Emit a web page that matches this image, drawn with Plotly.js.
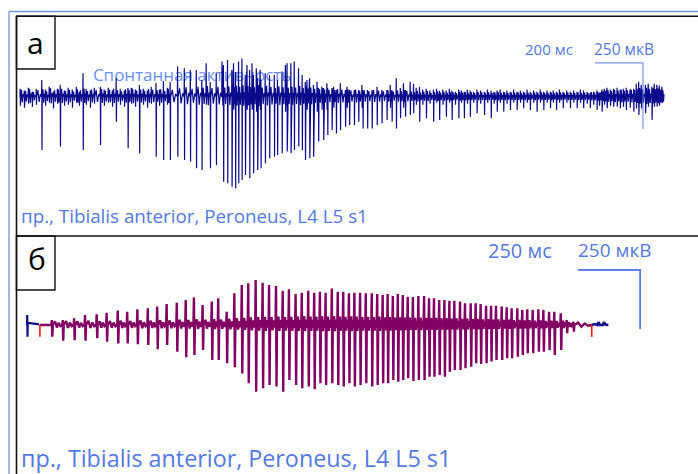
<!DOCTYPE html>
<html>
<head>
<meta charset="utf-8">
<script src="https://cdn.plot.ly/plotly-3.0.1.min.js"></script>
<style>html,body{margin:0;padding:0;background:#fff;}#chart{width:698px;height:474px;}</style>
</head>
<body>
<div id="chart"></div>
<script>
// ===== Panel "а": spontaneous activity (time in ms, amplitude in µV) =====
const aT = [8,25,42,58,75,98,113,129,146,163,175,192,208,225,242,254,270,283,300,317,342,358,375,392,408,425,442,457,471,488,505,521,538,554,574,588,605,621,633,
664,692,717,742,765,783,800,825,849,855,872,890,897,905,918,932,946,953,964,974,980,992,997,1008,1011,1029,1047,1067,1080,1099,1113,1120,1136,1150,1168,1183,1196,1203,1214,1230,1245,1251,1265,1272,1286,1289,1307,1314,1325,1342,1363,1370,1380,1400,1418,1432,1436,1455,1474,1495,1515,1536,1550,1557,1575,1592,1605,1613,
1633,1647,1658,1672,1685,1700,1715,1730,1743,1755,1769,1783,1796,1807,1821,1835,1846,1858,1871,1883,1897,1911,1926,1942,1955,1970,1982,1995,2008,2022,2036,2050,2064,2078,2092,2105,2120,2133,2147,2161,2175,2189,2203,2217,2229,2242,2255,2270,2285,2300,2314,2328,2342,2355,2370,2383,2397,2411,2421,2432,2442,2453,2467,2480,2495,2508,2521,2533,2549,2564,2575,2585,2596,2613,2625,2640,2650,2661,2671,2682];
const aUp = [30,23,34,19,30,63,27,38,19,30,44,23,34,27,38,19,89,30,23,34,38,27,34,23,71,30,23,33,34,27,44,30,23,38,52,27,59,34,56,
114,108,101,101,63,127,56,89,133,120,139,101,127,94,133,145,82,120,101,127,82,108,71,101,63,89,82,82,63,95,120,127,127,133,108,82,56,63,70,44,57,33,38,33,51,33,33,38,25,51,25,38,25,25,25,44,25,25,25,38,25,25,44,25,70,33,51,25,
57,49,34,38,27,30,23,27,30,23,27,23,30,23,19,27,23,19,27,23,19,27,23,19,27,23,19,23,27,19,23,19,27,19,23,19,27,19,23,19,27,19,23,19,23,19,27,19,23,19,23,19,27,23,19,15,19,23,15,27,30,34,27,30,34,27,30,34,27,30,49,57,45,45,49,38,49,45,42,38];
const aDn = [34,42,27,38,30,202,34,23,45,27,189,34,30,42,23,34,202,30,42,27,183,34,23,38,95,30,38,195,27,38,214,30,42,27,227,34,240,30,240,
227,240,246,271,278,30,271,259,30,322,328,341,49,347,328,316,297,49,309,49,290,57,278,49,271,252,233,227,221,214,57,208,214,202,189,202,240,49,233,227,57,170,49,164,49,145,126,42,139,126,114,42,107,107,95,42,120,120,120,107,101,88,42,95,120,82,42,76,
69,63,30,95,30,82,27,95,23,88,30,76,23,88,30,82,23,82,27,76,23,63,27,69,23,82,27,57,23,57,27,50,23,50,23,44,23,50,23,57,23,50,23,44,23,50,23,44,23,44,23,44,23,44,27,44,30,50,34,57,30,44,34,38,38,44,38,50,42,57,45,69,45,63,38,88,38,38,34,25];
// background noise amplitude after each event (µV)
const aRip = [26,22,30,18,25,28,20,32,24,27,30,22,26,19,28,24,30,21,27,25,29,22,26,30,24,20,28,25,31,23,27,22,29,26,24,28,21,30,26,
32,36,30,38,34,40,33,37,42,35,39,44,36,41,38,43,35,40,37,42,36,39,44,38,35,41,37,33,39,36,42,34,38,35,40,33,37,31,35,30,34,28,32,27,31,26,30,25,29,27,24,28,23,27,22,26,24,21,25,23,20,24,22,19,23,21,25,22,
20,17,22,16,19,21,15,18,20,16,19,15,18,17,14,19,16,18,15,17,14,18,16,15,17,14,16,18,15,17,14,16,15,17,14,16,15,13,16,14,17,15,14,16,13,15,17,14,16,15,14,17,15,16,14,18,16,19,17,20,22,24,21,25,23,26,22,24,27,25,30,33,28,34,30,32,29,31,27,24];

// ===== Panel "б": interference pattern (time in ms, amplitude in µV) =====
const bT = [100,144,190,234,281,321,366,404,445,487,525,563,604,640,673,708,745,771,805,836,866,892,922,950,976,1004,1031,1056,1083,1108,1134,1158,1181,1204,1229,1253,1275,1298,1320,1343,1366,1390,1412,1434,1454,1475,1495,1515,1535,1556,1578,1601,1621,1641,1662,1683,1703,1723,1746,1766,1789,1809,1829,1851,1871,1891,1914,1934,1954,1977,1997,2017,2039,2062,2082,2105,2126,2152,2176,2203];
const bUp = [21,21,28,42,45,52,61,56,67,71,78,89,94,106,117,85,99,113,56,134,169,177,191,179,169,165,145,151,131,137,145,137,141,137,155,141,141,134,137,137,134,134,131,127,131,123,131,127,120,119,123,123,113,113,106,106,103,103,99,92,92,92,89,81,81,81,78,75,71,71,64,67,64,67,64,56,56,50,21,14];
const bDn = [50,67,64,67,56,71,78,78,81,85,103,85,113,137,127,106,148,148,162,179,205,247,283,268,254,261,283,233,254,268,261,272,247,254,247,254,261,247,261,254,247,261,254,247,247,233,240,233,226,237,233,233,219,219,212,219,198,191,191,183,177,162,165,162,155,148,148,141,141,134,127,120,120,113,113,106,127,106,35,28];
const bRip = [15,17,15,18,16,17,18,17,19,18,20,19,22,21,24,22,25,23,26,28,30,32,34,35,33,36,34,35,36,38,36,35,37,36,38,36,35,37,36,34,35,34,36,33,34,32,33,31,32,30,31,30,29,30,28,29,27,28,26,27,25,26,24,25,23,24,22,23,21,22,20,21,19,20,18,19,17,18,12,10];
// recording start / end segments (blue) and markers (red)
const bStartT = [0,1,2,3,10,30,44,48];
const bStartV = [0,42,-50,8,8,6,4,0];
const bEndT = [2277,2290,2300,2304,2310,2322,2326,2332,2344];
const bEndV = [0,4,0,12,0,0,12,2,0];
const bMarkT = [52,2277];
const bMarkV = [-50,-50];

// scale bars
const aScaleMs = 200, aScaleUv = 250;
const bScaleMs = 250, bScaleUv = 250;

// ===== build traces =====
const ax = [], ay = [];
for (let i = 0; i < aT.length; i++) {
  const t = aT[i];
  const next = i + 1 < aT.length ? aT[i + 1] : t + 12;
  const g = next - t - 3;
  ax.push(t, t + 1, t + 2, t + 3, t + 3 + g * 0.25, t + 3 + g * 0.5, t + 3 + g * 0.75);
  ay.push(0, aUp[i], -aDn[i], 0, aRip[i], -aRip[i] * 0.8, aRip[i] * 0.4);
}
const bx = [52], by = [0];
for (let i = 0; i < bT.length; i++) {
  const t = bT[i];
  const next = i + 1 < bT.length ? bT[i + 1] : 2277;
  const g = next - t - 8;
  bx.push(t - 2, t, t + 2, t + 4, t + 6 + g * 0.2, t + 6 + g * 0.4, t + 6 + g * 0.6, t + 6 + g * 0.8);
  by.push(0, bUp[i], -bDn[i], 0, bRip[i], -bRip[i] * 0.7, bRip[i] * 0.6, -bRip[i] * 0.3);
}
bx.push(2277); by.push(0);
const mx = [], my = [];
bMarkT.forEach((t, i) => { mx.push(t, t, null); my.push(0, bMarkV[i], null); });

const navy = '#0a0a8c';
const purple = '#820063';
const lblue = '#5479e2';

const traces = [
  {x: [312], y: [75], mode: 'text', text: ['Спонтанная активность'], textposition: 'middle right',
   textfont: {family: 'Open Sans, sans-serif', size: 17, color: '#6b8ff0'}, xaxis: 'x', yaxis: 'y', hoverinfo: 'skip'},
  {x: ax, y: ay, mode: 'lines', line: {color: navy, width: 1.2}, xaxis: 'x', yaxis: 'y', hoverinfo: 'skip'},
  {x: bx, y: by, mode: 'lines', line: {color: purple, width: 2.4}, xaxis: 'x2', yaxis: 'y2', hoverinfo: 'skip'},
  {x: bStartT, y: bStartV, mode: 'lines', line: {color: '#10108c', width: 2.2}, xaxis: 'x2', yaxis: 'y2', hoverinfo: 'skip'},
  {x: bEndT, y: bEndV, mode: 'lines', line: {color: '#10108c', width: 2.6}, xaxis: 'x2', yaxis: 'y2', hoverinfo: 'skip'},
  {x: mx, y: my, mode: 'lines', line: {color: '#ff1010', width: 1.6}, xaxis: 'x2', yaxis: 'y2', hoverinfo: 'skip'}
];

// ===== layout (pixel helpers for frame / labels) =====
const W = 698, H = 474;
const px = v => v / W, py = v => 1 - v / H;
const aScaleT0 = 2404, aScaleV0 = 128;
const bScaleT0 = 2222, bScaleV0 = 233;

const shapes = [
  {type: 'line', xref: 'paper', yref: 'paper', x0: px(9), x1: px(700), y0: py(11.5), y1: py(11.5), line: {color: '#6f93e6', width: 1.3}},
  {type: 'line', xref: 'paper', yref: 'paper', x0: px(9), x1: px(9), y0: py(11.5), y1: py(476), line: {color: '#6f93e6', width: 1.3}},
  {type: 'line', xref: 'paper', yref: 'paper', x0: px(16.5), x1: px(700), y0: py(16.3), y1: py(16.3), line: {color: '#111', width: 1.6}},
  {type: 'line', xref: 'paper', yref: 'paper', x0: px(16.5), x1: px(16.5), y0: py(16), y1: py(476), line: {color: '#111', width: 1.6}},
  {type: 'line', xref: 'paper', yref: 'paper', x0: px(16.5), x1: px(700), y0: py(236), y1: py(236), line: {color: '#111', width: 1.6}},
  {type: 'rect', xref: 'paper', yref: 'paper', x0: px(16.5), x1: px(55), y0: py(16.3), y1: py(69), line: {color: '#111', width: 1.4}},
  {type: 'rect', xref: 'paper', yref: 'paper', x0: px(16.5), x1: px(55), y0: py(236), y1: py(290), line: {color: '#111', width: 1.4}},
  {type: 'path', xref: 'x', yref: 'y', path: `M${aScaleT0},${aScaleV0} L${aScaleT0 + aScaleMs},${aScaleV0} L${aScaleT0 + aScaleMs},${aScaleV0 - aScaleUv}`, line: {color: '#5b7fe6', width: 1}},
  {type: 'path', xref: 'x2', yref: 'y2', path: `M${bScaleT0},${bScaleV0} L${bScaleT0 + bScaleMs},${bScaleV0} L${bScaleT0 + bScaleMs},${bScaleV0 - bScaleUv}`, line: {color: '#5b7fe6', width: 1.8}}
];

const f = (size, color) => ({family: 'Open Sans, sans-serif', size: size, color: color});
const ann = (x, y, text, font, xanchor) => ({xref: 'paper', yref: 'paper', x: px(x), y: py(y), text: text, showarrow: false,
  xanchor: xanchor || 'center', yanchor: 'middle', font: font, borderpad: 0});
const annotations = [
  ann(35.5, 42, 'а', f(30, '#000')),
  ann(36.5, 258, 'б', f(30, '#000')),
  ann(548.5, 49, aScaleMs + ' мс', f(15, lblue)),
  ann(623.5, 49, aScaleUv + ' мкВ', f(15.5, lblue)),
  ann(520, 250, bScaleMs + ' мс', f(20, lblue)),
  ann(615, 250, bScaleUv + ' мкВ', f(19, lblue)),
  ann(20, 216, 'пр., Tibialis anterior, Peroneus, L4 L5 s1', f(18.8, lblue), 'left'),
  ann(20, 458, 'пр., Tibialis anterior, Peroneus, L4 L5 s1', f(23.3, lblue), 'left')
];

const layout = {
  width: W, height: H, margin: {l: 0, r: 0, t: 0, b: 0, pad: 0},
  paper_bgcolor: '#fff', plot_bgcolor: '#fff', showlegend: false,
  xaxis: {domain: [0, 1], range: [-75, 2833.3], visible: false, fixedrange: true},
  yaxis: {domain: [0, 1], range: [-1429.2, 366.3], visible: false, fixedrange: true},
  xaxis2: {domain: [0, 1], range: [-108.9, 2705.4], visible: false, fixedrange: true, overlaying: 'x', anchor: 'y2'},
  yaxis2: {domain: [0, 1], range: [-631.3, 1377.0], visible: false, fixedrange: true, overlaying: 'y', anchor: 'x2'},
  shapes: shapes, annotations: annotations
};

Plotly.newPlot('chart', traces, layout, {staticPlot: true, displayModeBar: false});
</script>
</body>
</html>
